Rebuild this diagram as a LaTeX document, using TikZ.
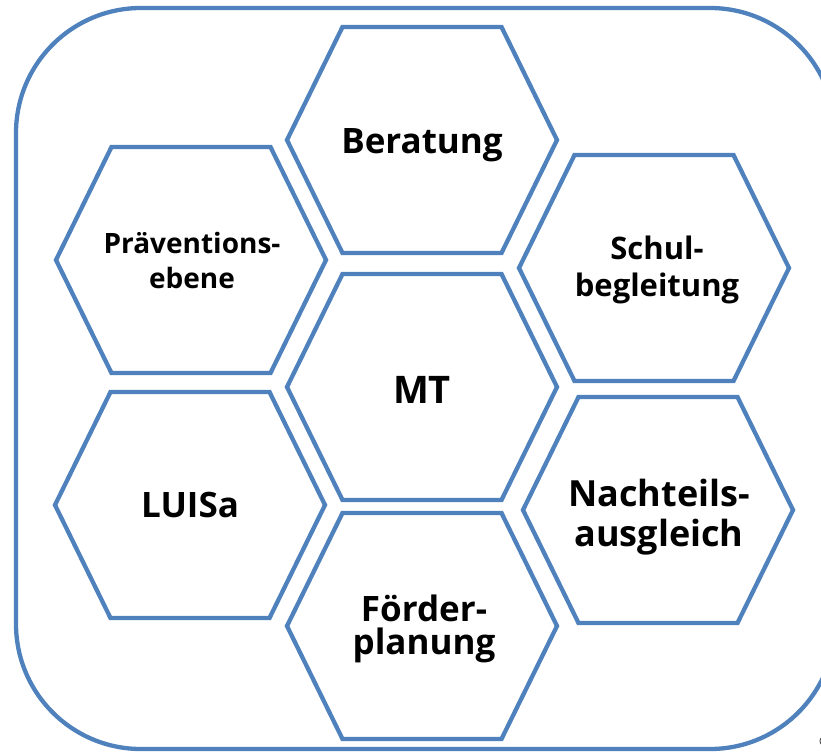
\documentclass[tikz,border=0pt]{standalone}
\usepackage{fontspec}
\setmainfont{Open Sans}
\definecolor{hexblue}{RGB}{79,129,189}
\tikzset{hex/.pic={code={%

      % one honeycomb cell, flat top and bottom
      \draw [hexblue, line width=4.3pt]
        (-135,0) -- (-79.5,-113) -- (79.5,-113) -- (135,0)
        -- (79.5,113) -- (-79.5,113) -- cycle;

}}}

\begin{document}
\begin{tikzpicture}[x=1pt, y=-1pt,
    lbl/.style 2 args={align=center, inner sep=0pt, font=\bfseries\fontsize{#1}{#2}\selectfont}]
    \useasboundingbox (0,0) rectangle (821,754);

    % outer frame
    \draw [hexblue, line width=4.3pt, rounded corners=125pt] (16,8) rectangle (835,749);

    % cells
    \path (422,140) pic {hex};
    \path (422,387) pic {hex};
    \path (422,626) pic {hex};
    \path (191,260) pic {hex};
    \path (190,505) pic {hex};
    \path (654,268) pic {hex};
    \path (658,510) pic {hex};

    % add labels
    \node [lbl={35}{33}] (ber) at (422,145) {Beratung};
    \node [lbl={38}{40}] (mt) at (422,390) {MT};
    \node [lbl={35}{33}] (foe) at (424,629) {Förder-\\planung};
    \node [lbl={28}{35}] (prae) at (192,260) {Präventions-\\ebene};
    \node [lbl={35}{33}] (luisa) at (190,505) {LUISa};
    \node [lbl={31}{37}] (schul) at (657,270) {Schul-\\begleitung};
    \node [lbl={36}{40}] (nach) at (659,517) {Nachteils-\\ausgleich};
    \node [font=\fontsize{14}{14}\selectfont] (copy) at (825,741) {©};
\end{tikzpicture}
\end{document}
